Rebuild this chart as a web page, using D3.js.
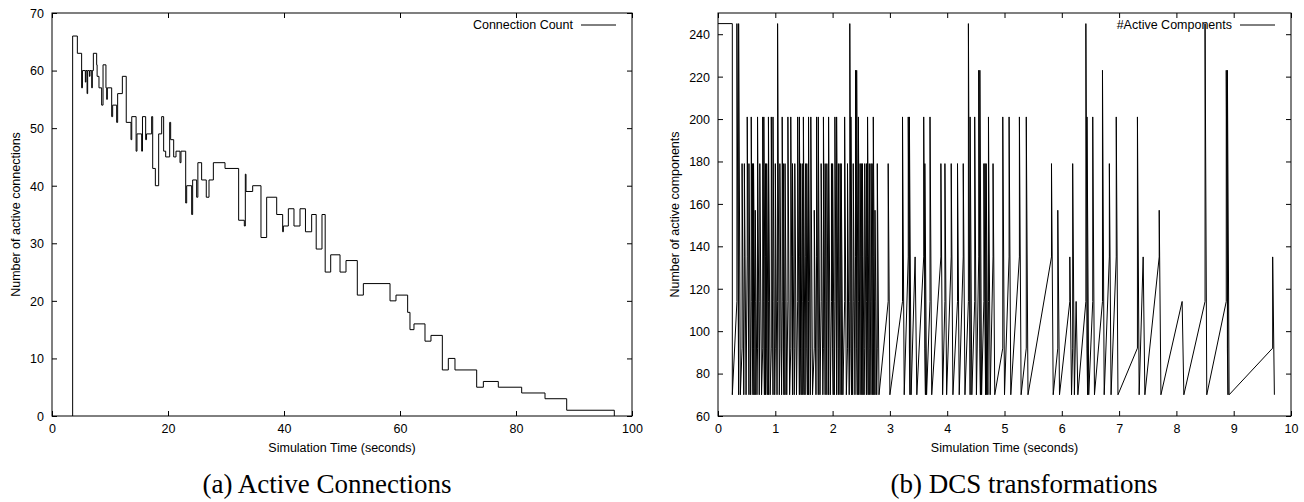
<!DOCTYPE html>
<html><head><meta charset="utf-8">
<script src="https://cdn.jsdelivr.net/npm/d3@7"></script>
<style>
html,body{margin:0;padding:0;background:#fff;}
svg{display:block;}
.ax text{font-family:"Liberation Sans",Arial,Helvetica,sans-serif;font-size:12.5px;fill:#000;}
.lab{font-family:"Liberation Sans",Arial,Helvetica,sans-serif;font-size:12.5px;fill:#000;}
.cap{font-family:"Liberation Serif","Times New Roman",serif;font-size:27px;fill:#000;}
</style></head><body>
<svg id="chart" width="1304" height="502"></svg>
<script>
// ---------- (a) Active connections: step series ----------
const connTime = [3.56,3.56,4.37,5.11,5.25,5.75,5.85,6.05,6.15,6.45,
  6.55,6.85,6.95,7.13,7.70,7.78,8.10,8.56,8.80,9.30,
  9.43,9.54,10.29,10.46,11.15,11.32,12.13,12.80,13.62,13.75,
  14.50,14.65,15.46,15.60,16.15,16.30,17.18,17.36,17.82,18.39,
  18.91,19.25,19.60,20.29,20.46,20.98,21.38,22.07,22.24,23.05,
  23.22,24.08,24.25,24.94,25.15,25.80,26.60,27.07,27.82,29.83,
  32.18,33.16,33.33,33.45,34.60,36.03,37.01,38.74,39.77,39.89,
  40.75,41.72,42.76,43.70,44.77,45.55,46.55,47.10,48.05,49.66,
  50.69,52.64,53.68,58.28,59.31,61.32,61.72,62.41,64.31,65.34,
  67.30,68.33,69.48,73.22,74.37,76.95,80.98,85.00,88.74,96.95];
const connCount = [0,66,63,57,60,58,60,56,60,59,
  60,57,60,63,61,59,57,54,61,57,
  55,57,52,54,51,56,59,51,48,52,
  46,49,46,52,48,49,52,43,40,49,
  52,46,45,51,48,45,46,44,46,37,
  40,35,41,38,44,41,38,41,44,43,
  34,33,42,39,40,31,38,35,32,33,
  36,33,36,32,35,29,35,25,28,25,
  27,21,23,20,21,18,15,16,13,14,
  8,10,8,5,6,5,4,3,1,0];
const connXTicks = [0,20,40,60,80,100];
const connYTicks = [0,10,20,30,40,50,60,70];

// ---------- (b) DCS transformations ----------
const dcsLeadTime = [0,0.25,0.25];
const dcsLeadValue = [245,245,70];
const dcsEventTime = [0.33,0.36,0.42,0.51,0.54,0.58,0.60,0.65,0.69,0.73,
  0.78,0.80,0.85,0.88,0.93,0.96,1.00,1.04,1.08,1.12,
  1.14,1.22,1.27,1.30,1.34,1.39,1.44,1.47,1.49,1.53,
  1.55,1.58,1.62,1.72,1.75,1.80,1.84,1.90,1.93,1.98,
  2.00,2.04,2.10,2.13,2.15,2.21,2.26,2.30,2.32,2.40,
  2.42,2.45,2.50,2.52,2.56,2.59,2.61,2.64,2.67,2.71,
  2.78,2.97,3.22,3.32,3.34,3.44,3.59,3.61,3.70,3.89,
  3.96,4.07,4.18,4.28,4.37,4.40,4.48,4.55,4.57,4.64,
  4.66,4.68,4.72,4.80,4.97,5.08,5.26,5.38,5.82,5.93,
  6.14,6.19,6.25,6.42,6.44,6.54,6.71,6.83,6.95,7.32,
  7.42,7.70,8.10,8.50,8.87,8.89,9.68,
  0.46,0.62,0.83,1.17,1.42,1.68,1.87,2.07,2.36,2.48,2.69,2.74];
const dcsEventPeak = [245,245,179,201,179,201,179,157,201,179,
  201,201,179,201,201,201,179,245,179,201,
  179,201,201,179,179,201,179,179,201,179,
  179,201,201,201,201,179,201,179,201,179,
  179,201,179,179,179,201,179,245,201,223,
  223,201,179,179,179,179,201,179,179,201,
  179,179,201,201,201,135,201,179,201,179,
  179,179,179,179,245,201,201,223,223,179,
  179,179,201,179,201,201,201,201,179,157,
  135,179,114,245,201,201,223,179,201,201,
  135,157,114,245,223,223,135,
  179,179,179,179,201,157,179,201,179,179,179,157];
const dcsEventBase = [114,92,92,135,92,114,92,114,92,114,
  92,114,92,114,92,114,92,114,92,114,
  92,114,92,135,92,114,92,114,92,135,
  92,114,92,135,92,114,92,114,92,114,
  92,114,92,135,92,114,92,114,92,135,
  92,114,92,135,92,114,135,92,114,135,
  92,114,114,135,92,135,135,92,114,135,
  114,135,114,135,114,92,114,135,92,114,
  135,92,114,135,92,135,135,92,135,92,
  114,92,114,114,92,114,114,135,135,92,
  135,135,114,114,114,92,92,
  135,92,135,114,135,92,135,92,114,135,92,114];
const dcsFloor = 70;
const dcsXTicks = [0,1,2,3,4,5,6,7,8,9,10];
const dcsYTicks = [60,80,100,120,140,160,180,200,220,240];

const svg = d3.select("#chart");

function panel(opt){
  const g = svg.append("g");
  const x = d3.scaleLinear().domain(opt.xDomain).range([opt.x0, opt.x1]);
  const y = d3.scaleLinear().domain(opt.yDomain).range([opt.y1, opt.y0]);
  const tk = 5;
  const gb = g.append("g").attr("class","ax").attr("transform",`translate(0,${opt.y1})`)
    .call(d3.axisBottom(x).tickValues(opt.xTicks).tickSizeInner(-tk).tickSizeOuter(0).tickPadding(8).tickFormat(d3.format("d")));
  const gt = g.append("g").attr("class","ax").attr("transform",`translate(0,${opt.y0})`)
    .call(d3.axisTop(x).tickValues(opt.xTicks).tickSizeInner(-tk).tickSizeOuter(0).tickFormat(""));
  const gl = g.append("g").attr("class","ax").attr("transform",`translate(${opt.x0},0)`)
    .call(d3.axisLeft(y).tickValues(opt.yTicks).tickSizeInner(-tk).tickSizeOuter(0).tickPadding(8).tickFormat(d3.format("d")));
  const gr = g.append("g").attr("class","ax").attr("transform",`translate(${opt.x1},0)`)
    .call(d3.axisRight(y).tickValues(opt.yTicks).tickSizeInner(-tk).tickSizeOuter(0).tickFormat(""));
  [gb,gt,gl,gr].forEach(a=>{a.select(".domain").remove(); a.selectAll("line").attr("stroke","#000"); a.selectAll("text").attr("fill","#000");});
  gb.selectAll("text").attr("dy","0.71em");
  gl.selectAll("text").attr("dy","0.35em");
  g.append("rect").attr("x",opt.x0).attr("y",opt.y0).attr("width",opt.x1-opt.x0).attr("height",opt.y1-opt.y0)
    .attr("fill","none").attr("stroke","#000").attr("stroke-width",1);
  g.append("text").attr("class","lab").attr("x",(opt.x0+opt.x1)/2).attr("y",452).attr("text-anchor","middle").text(opt.xLabel);
  g.append("text").attr("class","lab").attr("transform",`translate(${opt.yLabelX},${(opt.y0+opt.y1)/2}) rotate(-90)`)
    .attr("text-anchor","middle").text(opt.yLabel);
  g.append("text").attr("class","lab").attr("x",opt.legX).attr("y",29).attr("text-anchor","end").text(opt.legend);
  g.append("line").attr("x1",opt.legX+8).attr("x2",opt.legX+43).attr("y1",25).attr("y2",25).attr("stroke","#000").attr("stroke-width",1);
  svg.append("text").attr("class","cap").attr("x",opt.capX).attr("y",493).attr("text-anchor","middle").text(opt.caption);
  return {g,x,y};
}

// panel (a)
const A = panel({x0:52,x1:632,y0:13,y1:416,xDomain:[0,100],yDomain:[0,70],xTicks:connXTicks,yTicks:connYTicks,
  xLabel:"Simulation Time (seconds)",yLabel:"Number of active connections",yLabelX:20,
  legend:"Connection Count",legX:573,caption:"(a) Active Connections",capX:327});
const connPts = connTime.map((t,i)=>[t,connCount[i]]);
A.g.append("path").datum(connPts)
  .attr("d",d3.line().x(d=>A.x(d[0])).y(d=>A.y(d[1])).curve(d3.curveStepAfter))
  .attr("fill","none").attr("stroke","#000").attr("stroke-width",1);

// panel (b)
const B = panel({x0:718,x1:1291,y0:13,y1:416,xDomain:[0,10],yDomain:[60,250],xTicks:dcsXTicks,yTicks:dcsYTicks,
  xLabel:"Simulation Time (seconds)",yLabel:"Number of active components",yLabelX:679,
  legend:"#Active Components",legX:1232,caption:"(b) DCS transformations",capX:1024});
const order = d3.range(dcsEventTime.length).sort((a,b)=>dcsEventTime[a]-dcsEventTime[b]);
const dcsPts = dcsLeadTime.map((t,i)=>[t,dcsLeadValue[i]]);
order.forEach(i=>{
  const t = dcsEventTime[i];
  dcsPts.push([t,dcsEventBase[i]]);
  dcsPts.push([t,dcsEventPeak[i]]);
  dcsPts.push([t+0.03,dcsFloor]);
});
B.g.append("path").datum(dcsPts)
  .attr("d",d3.line().x(d=>B.x(d[0])).y(d=>B.y(d[1])))
  .attr("fill","none").attr("stroke","#000").attr("stroke-width",1);
</script>
</body></html>
